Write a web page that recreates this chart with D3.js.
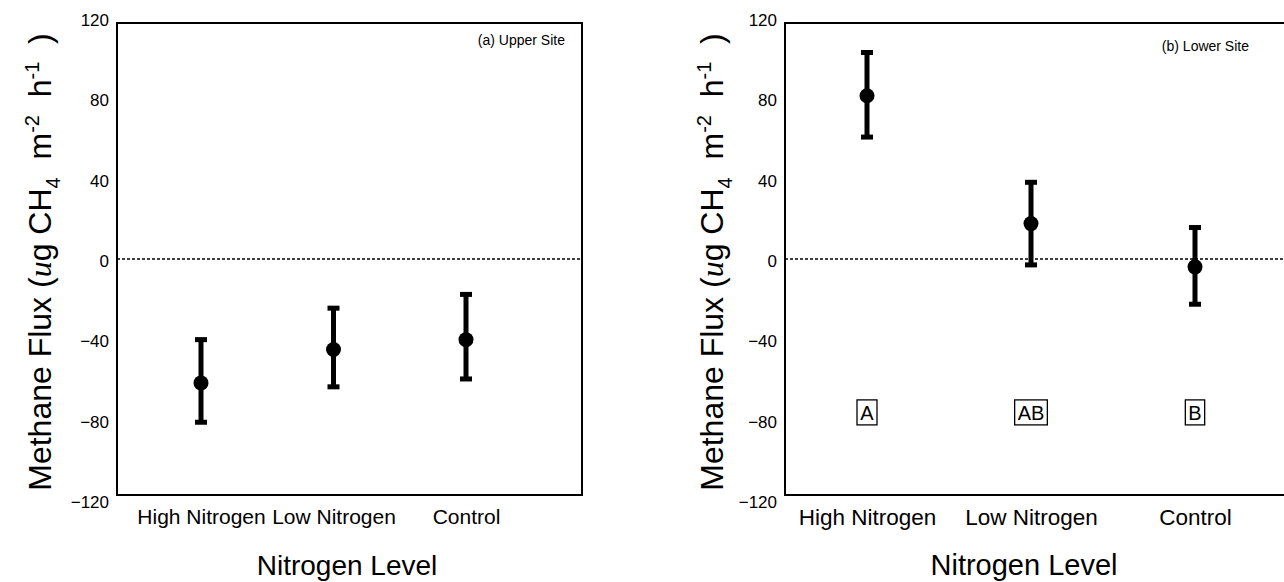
<!DOCTYPE html>
<html>
<head>
<meta charset="utf-8">
<script src="https://cdn.jsdelivr.net/npm/d3@7"></script>
<style>
  html, body { margin: 0; padding: 0; background: #fff; }
  svg { display: block; }
  text { font-family: "Liberation Sans", Arial, sans-serif; fill: #000; }
</style>
</head>
<body>
<div id="chart"></div>
<script>
const width = 1284;
const height = 582;

// nitrogen treatments on the x axis
const categories = ["High Nitrogen", "Low Nitrogen", "Control"];
const yTicks = [-120, -80, -40, 0, 40, 80, 120];

// (a) upper site: mean and error bar ends
const upperMean = [-63, -46, -41];
const upperLow = [-83, -65, -61];
const upperHigh = [-41, -25, -18];

// (b) lower site
const lowerMean = [83, 18, -4];
const lowerLow = [62, -3, -23];
const lowerHigh = [105, 39, 16];
const lowerLetters = ["A", "AB", "B"];
const letterLevel = -78;

const panels = [
  {
    label: "(a) Upper Site",
    mean: upperMean, low: upperLow, high: upperHigh, letters: null,
    left: 117, right: 582, pointRange: [201, 466], catSize: 21,
    labelX: 565, labelY: 45, yTitleX: 51, xTitleX: 347, xTitleSize: 28,
  },
  {
    label: "(b) Lower Site",
    mean: lowerMean, low: lowerLow, high: lowerHigh, letters: lowerLetters,
    left: 785, right: 1292, pointRange: [867, 1195], catSize: 22.5,
    labelX: 1249, labelY: 51, yTitleX: 723, xTitleX: 1024, xTitleSize: 29,
  },
];

const plotTop = 23;
const plotBottom = 495;

const svg = d3.select("#chart")
  .append("svg")
  .attr("width", width)
  .attr("height", height);

const y = d3.scaleLinear().domain([-120, 120]).range([plotBottom, plotTop]);
// the tick labels sit a little wider apart than the frame
const yLabel = d3.scaleLinear().domain([-120, 120]).range([plotBottom + 7, plotTop - 3]);

function drawPanel(p) {
  const g = svg.append("g");

  const x = d3.scalePoint()
    .domain(categories)
    .range(p.pointRange);

  // y tick labels, no tick marks
  g.append("g")
    .attr("transform", `translate(${p.left},0)`)
    .call(d3.axisLeft(yLabel).tickValues(yTicks).tickSize(0).tickPadding(8))
    .call((a) => a.select(".domain").remove())
    .selectAll("text")
    .style("font-family", "Liberation Sans, Arial, sans-serif")
    .attr("font-size", 17);

  // category labels
  g.append("g")
    .attr("transform", `translate(0,${plotBottom})`)
    .call(d3.axisBottom(x).tickSize(0).tickPadding(14))
    .call((a) => a.select(".domain").remove())
    .selectAll("text")
    .style("font-family", "Liberation Sans, Arial, sans-serif")
    .attr("font-size", p.catSize);

  // zero reference line
  g.append("line")
    .attr("x1", p.left)
    .attr("x2", p.right)
    .attr("y1", y(0))
    .attr("y2", y(0))
    .attr("stroke", "#000")
    .attr("stroke-width", 1.3)
    .attr("stroke-dasharray", "3,2");

  // frame
  g.append("rect")
    .attr("x", p.left)
    .attr("y", plotTop)
    .attr("width", p.right - p.left)
    .attr("height", plotBottom - plotTop)
    .attr("fill", "none")
    .attr("stroke", "#000")
    .attr("stroke-width", 2);

  const rows = categories.map((c, i) => ({
    cat: c, mean: p.mean[i], low: p.low[i], high: p.high[i],
  }));

  const bars = g.selectAll(".bar").data(rows).join("g").attr("class", "bar");

  bars.append("line")
    .attr("x1", (d) => x(d.cat))
    .attr("x2", (d) => x(d.cat))
    .attr("y1", (d) => y(d.high))
    .attr("y2", (d) => y(d.low))
    .attr("stroke", "#000")
    .attr("stroke-width", 5);

  ["high", "low"].forEach((key) => {
    bars.append("rect")
      .attr("x", (d) => x(d.cat) - 6)
      .attr("y", (d) => y(d[key]) - 2.5)
      .attr("width", 12)
      .attr("height", 5)
      .attr("fill", "#000");
  });

  bars.append("circle")
    .attr("cx", (d) => x(d.cat))
    .attr("cy", (d) => y(d.mean))
    .attr("r", 7.5)
    .attr("fill", "#000");

  // significance letters
  if (p.letters) {
    const lg = g.selectAll(".letter")
      .data(categories.map((c, i) => ({ cat: c, text: p.letters[i] })))
      .join("g")
      .attr("class", "letter")
      .attr("transform", (d) => `translate(${x(d.cat)},${y(letterLevel)})`);

    lg.append("text")
      .attr("text-anchor", "middle")
      .attr("dy", "0.36em")
      .attr("font-size", 20)
      .text((d) => d.text)
      .each(function () {
        const b = this.getBBox();
        d3.select(this.parentNode)
          .insert("rect", "text")
          .attr("x", -b.width / 2 - 3)
          .attr("y", -12.5)
          .attr("width", b.width + 6)
          .attr("height", 25)
          .attr("fill", "#fff")
          .attr("stroke", "#000")
          .attr("stroke-width", 1.3);
      });
  }

  // panel label
  g.append("text")
    .attr("x", p.labelX)
    .attr("y", p.labelY)
    .attr("text-anchor", "end")
    .attr("font-size", 14)
    .text(p.label);

  // x title
  g.append("text")
    .attr("x", p.xTitleX)
    .attr("y", 575)
    .attr("text-anchor", "middle")
    .attr("font-size", p.xTitleSize)
    .text("Nitrogen Level");

  // y title with sub/superscripts
  const yt = g.append("text")
    .attr("transform", `translate(${p.yTitleX},${(plotTop + plotBottom) / 2 + 3}) rotate(-90)`)
    .attr("text-anchor", "middle")
    .attr("font-size", 32);
  yt.append("tspan").text("Methane Flux (");
  yt.append("tspan").attr("font-family", "Liberation Serif, serif").attr("font-style", "italic").text("u");
  yt.append("tspan").text("g CH");
  yt.append("tspan").attr("font-size", 20).attr("dy", 9).text("4");
  yt.append("tspan").attr("dy", -9).text("\u00a0 m");
  yt.append("tspan").attr("font-size", 20).attr("dy", -12).text("-2");
  yt.append("tspan").attr("dy", 12).text("\u00a0 h");
  yt.append("tspan").attr("font-size", 20).attr("dy", -12).text("-1");
  yt.append("tspan").attr("dy", 12).text("\u00a0 )");
}

panels.forEach(drawPanel);
</script>
</body>
</html>
